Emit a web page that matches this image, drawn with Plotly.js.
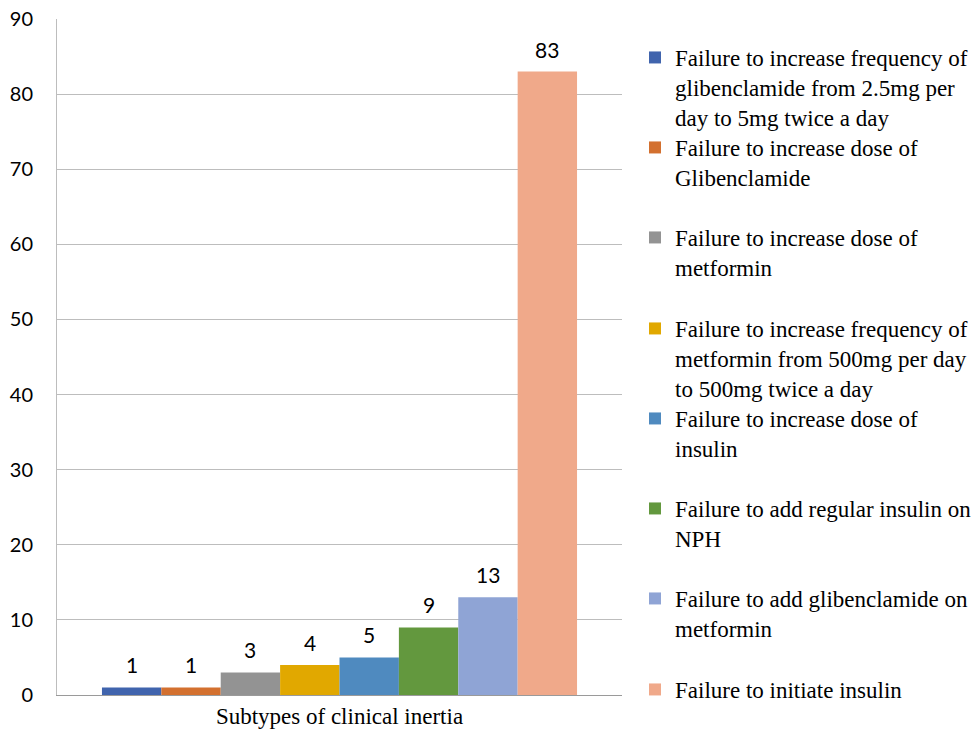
<!DOCTYPE html>
<html>
<head>
<meta charset="utf-8">
<script src="https://cdn.plot.ly/plotly-3.0.1.min.js"></script>
<style>
  html, body { margin: 0; padding: 0; background: #ffffff; }
  #chart { width: 974px; height: 733px; }
</style>
</head>
<body>
<div id="chart"></div>
<script>
// Subtypes of clinical inertia: one bar per subtype
const subtypes = [
  "Failure to increase frequency of<br>glibenclamide from 2.5mg per<br>day to 5mg twice a day",
  "Failure to increase dose of<br>Glibenclamide",
  "Failure to increase dose of<br>metformin",
  "Failure to increase frequency of<br>metformin from 500mg per day<br>to 500mg twice a day",
  "Failure to increase dose of<br>insulin",
  "Failure to add regular insulin on<br>NPH",
  "Failure to add glibenclamide on<br>metformin",
  "Failure to initiate insulin"
];
const counts = [1, 1, 3, 4, 5, 9, 13, 83];
const barColors = ["#4064AD", "#D3702F", "#939393", "#E1A800", "#4F8ABF", "#63983E", "#8FA4D5", "#F0A98A"];
const yTicks = [0, 10, 20, 30, 40, 50, 60, 70, 80, 90];
const xTitle = "Subtypes of clinical inertia";

const W = 974, H = 733;
const plotL = 57, plotR = 622, plotT = 19, plotB = 695;
const serif = "Liberation Serif, Times New Roman, serif";
const sans = "Lato, Liberation Sans, sans-serif";

// each subtype sits in its own category slot, bars touching
const traces = subtypes.map((name, i) => ({
  type: "bar",
  name: name,
  x: [String(i)],
  y: [counts[i]],
  marker: { color: barColors[i], line: { width: 0 } },
  width: 1,
  hoverinfo: "y",
  legend: i === 0 ? "legend" : "legend" + (i + 1)
}));

// value labels above each bar
const annotations = counts.map((v, i) => ({
  x: String(i),
  y: v,
  xref: "x",
  yref: "y",
  text: String(v),
  showarrow: false,
  yanchor: "bottom",
  yshift: 8,
  font: { family: sans, size: 21, color: "#000000" }
}));

// one legend box per entry, evenly stacked down the right side
const legendCentres = [56, 146, 236, 327, 417, 507, 597, 688];
const layout = {
  width: W,
  height: H,
  paper_bgcolor: "#ffffff",
  plot_bgcolor: "#ffffff",
  font: { family: serif },
  margin: { l: plotL, r: W - plotR, t: plotT, b: H - plotB, autoexpand: false },
  barmode: "overlay",
  showlegend: true,
  xaxis: {
    type: "category",
    categoryorder: "array",
    categoryarray: subtypes.map((_, i) => String(i)),
    range: [-1.257, 8.257],
    showticklabels: false,
    showgrid: false,
    zeroline: false,
    showline: true,
    linecolor: "#9a9a9a",
    linewidth: 1,
    ticks: "",
    automargin: false,
    title: { text: xTitle, font: { family: serif, size: 23, color: "#000000" }, standoff: 12 }
  },
  yaxis: {
    range: [0, 90],
    tickvals: yTicks,
    ticktext: yTicks.map(String),
    showgrid: true,
    gridcolor: "#bdbdbd",
    gridwidth: 1,
    zeroline: false,
    showline: true,
    linecolor: "#bdbdbd",
    linewidth: 1,
    ticks: "",
    ticklabelstandoff: 19,
    automargin: false,
    tickfont: { family: sans, size: 20, color: "#000000" }
  },
  annotations: annotations
};

legendCentres.forEach((c, i) => {
  const key = i === 0 ? "legend" : "legend" + (i + 1);
  layout[key] = {
    x: (635 - plotL) / (plotR - plotL),
    xanchor: "left",
    y: (plotB - (c - 20)) / (plotB - plotT),
    yanchor: "top",
    valign: "top",
    bgcolor: "rgba(0,0,0,0)",
    borderwidth: 0,
    itemclick: false,
    itemdoubleclick: false,
    font: { family: serif, size: 23, color: "#000000" }
  };
});

Plotly.newPlot("chart", traces, layout, { displayModeBar: false, staticPlot: true });
</script>
</body>
</html>
